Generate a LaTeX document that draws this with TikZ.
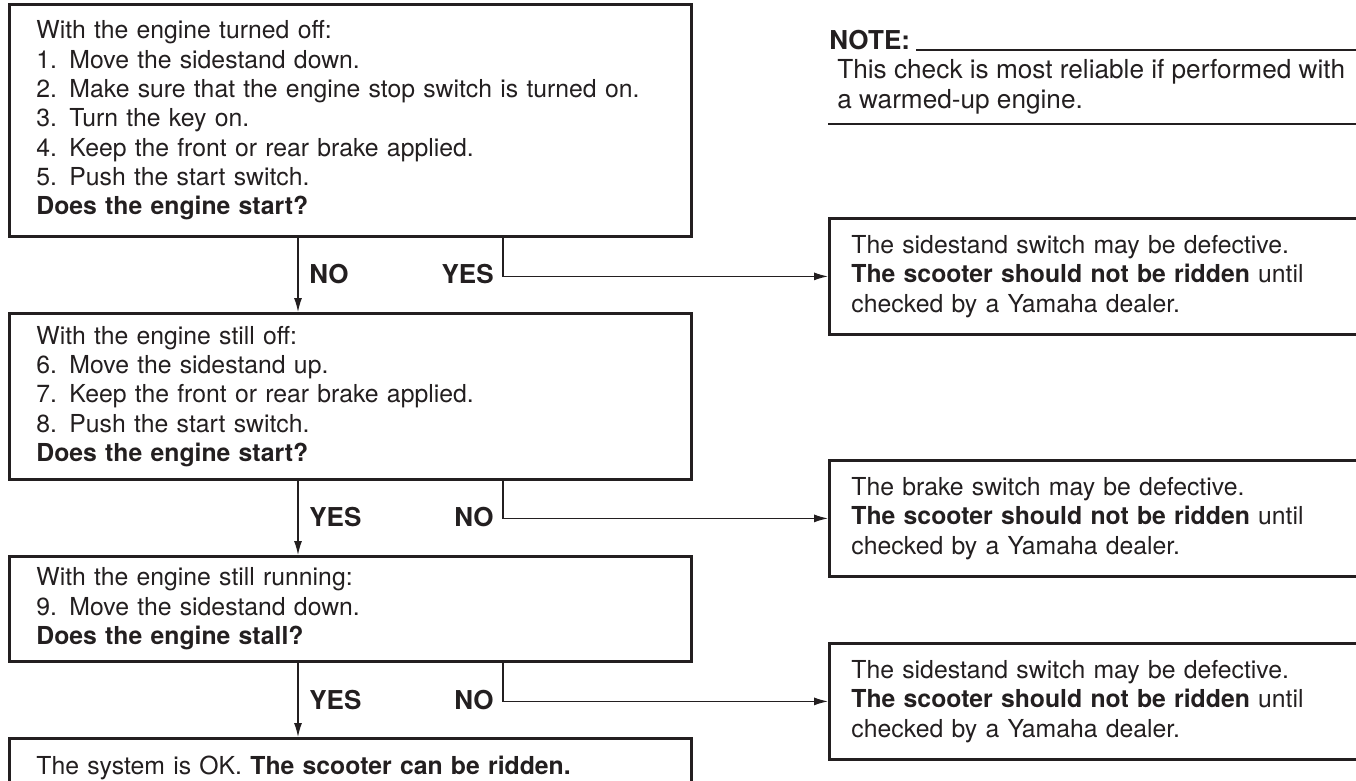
\documentclass[tikz,border=0pt]{standalone}
\usepackage{fontspec}
\setmainfont{TeX Gyre Heros}
\usepackage{xcolor}
\usetikzlibrary{positioning, arrows.meta, calc}
\definecolor{ink}{HTML}{231F20}

\begin{document}
\begin{tikzpicture}[x=0.02cm, y=-0.02cm,
    every node/.style={text=ink, font=\fontsize{14.1}{16.7}\selectfont},
    check/.style={draw=ink, line width=1.6pt, anchor=north west, align=left,
        text width=12.56cm, inner xsep=0.54cm, inner ysep=0pt, minimum width=13.64cm},
    fault/.style={draw=ink, line width=1.6pt, anchor=north west, align=left,
        text width=10.56cm, inner xsep=0.44cm, minimum height=2.32cm},
    answer/.style={inner sep=0pt, font=\fontsize{14.8}{16.7}\selectfont\bfseries},
    flow/.style={draw=ink, line width=0.7pt, -{Latex[length=2.8mm, width=1.6mm]}},
    rule/.style={draw=ink, line width=0.7pt}]

    \useasboundingbox (0,0) rectangle (1356,781);

    \node[check, minimum height=4.64cm] (start) at (8,3) {With the engine turned off:\\
        1. Move the sidestand down.\\
        2. Make sure that the engine stop switch is turned on.\\
        3. Turn the key on.\\
        4. Keep the front or rear brake applied.\\
        5. Push the start switch.\\
        \textbf{Does the engine start?}};

    \node[check, minimum height=3.32cm] (standup) at (8,312) {With the engine still off:\\
        6. Move the sidestand up.\\
        7. Keep the front or rear brake applied.\\
        8. Push the start switch.\\
        \textbf{Does the engine start?}};

    \node[check, minimum height=2.1cm] (running) at (8,555) {With the engine still running:\\
        9. Move the sidestand down.\\
        \textbf{Does the engine stall?}};

    \node[check, minimum height=1.2cm] (ok) at (8,737) {The system is OK. \textbf{The scooter can be ridden.}};

    \node[fault] (fault1) at (828,217) {The sidestand switch may be defective.\\
        \textbf{The scooter should not be ridden} until\\
        checked by a Yamaha dealer.};

    \node[fault] (fault2) at (828,459) {The brake switch may be defective.\\
        \textbf{The scooter should not be ridden} until\\
        checked by a Yamaha dealer.};

    \node[fault] (fault3) at (828,642) {The sidestand switch may be defective.\\
        \textbf{The scooter should not be ridden} until\\
        checked by a Yamaha dealer.};

    \coordinate (mainx) at (298,0);
    \coordinate (forkx) at (503,0);

    \draw[flow] (start.south -| mainx) -- (standup.north -| mainx);
    \draw[flow] (start.south -| forkx) |- (fault1.west);
    \draw[flow] (standup.south -| mainx) -- (running.north -| mainx);
    \draw[flow] (standup.south -| forkx) |- (fault2.west);
    \draw[flow] (running.south -| mainx) -- (ok.north -| mainx);
    \draw[flow] (running.south -| forkx) |- (fault3.west);

    \node[answer, anchor=west] (no1) at (309,274) {NO};
    \node[answer, anchor=east] (yes1) at (494,274) {YES};
    \node[answer, anchor=west] (yes2) at (309,517) {YES};
    \node[answer, anchor=east] (no2) at (494,517) {NO};
    \node[answer, anchor=west] (yes3) at (309,700) {YES};
    \node[answer, anchor=east] (no3) at (494,700) {NO};

    \node[answer, anchor=base west] (note) at (829,50) {NOTE:};
    \coordinate (noteend) at (1360,50);
    \draw[rule] ([xshift=0.12cm]note.base east) -- (noteend);
    \node[anchor=north west, inner sep=0pt, align=left, font=\fontsize{14.9}{17}\selectfont] (notebody) at (837,59) {This check is most reliable if performed with\\
        a warmed-up engine.};
    \draw[rule] (828,124) -- (1360,124);

\end{tikzpicture}
\end{document}
